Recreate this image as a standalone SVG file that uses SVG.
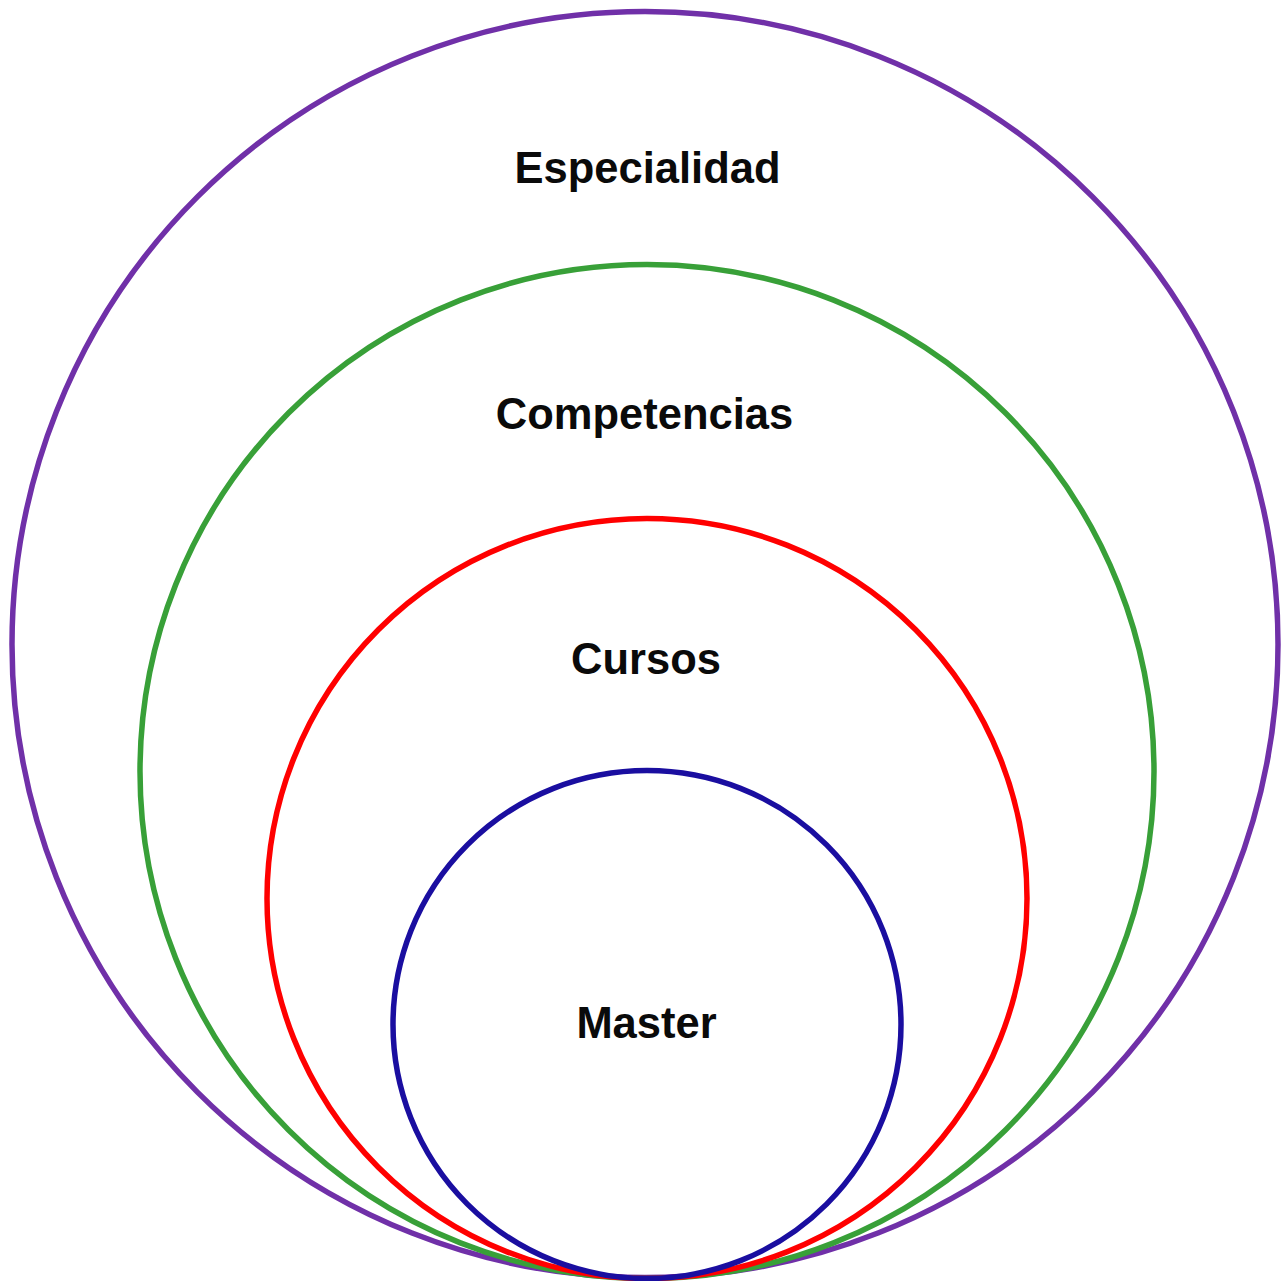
<svg xmlns="http://www.w3.org/2000/svg" width="1286" height="1281" viewBox="0 0 1286 1281">
<style>
.c{fill:none;stroke-width:5.5}
.t{font-family:"Liberation Sans",Arial,sans-serif;font-weight:bold;font-size:43.5px;fill:#0a0a0a;text-anchor:middle}
</style>
<rect width="1286" height="1281" fill="#fff"/>
<g id="especialidad">
<circle class="c" cx="645" cy="644.5" r="633" stroke="#7030a8"/>
<text class="t" x="647.5" y="183">Especialidad</text>
</g>
<g id="competencias">
<circle class="c" cx="647" cy="771.5" r="507" stroke="#38a038" stroke-width="6"/>
<text class="t" x="644.5" y="429">Competencias</text>
</g>
<g id="cursos">
<circle class="c" cx="647" cy="898.5" r="380" stroke="#ff0000" stroke-width="6"/>
<text class="t" x="646" y="674">Cursos</text>
</g>
<g id="master">
<circle class="c" cx="647" cy="1024.5" r="254" stroke="#1a0ea0"/>
<text class="t" x="646.5" y="1038">Master</text>
</g>
<g id="connectors"/>
</svg>
